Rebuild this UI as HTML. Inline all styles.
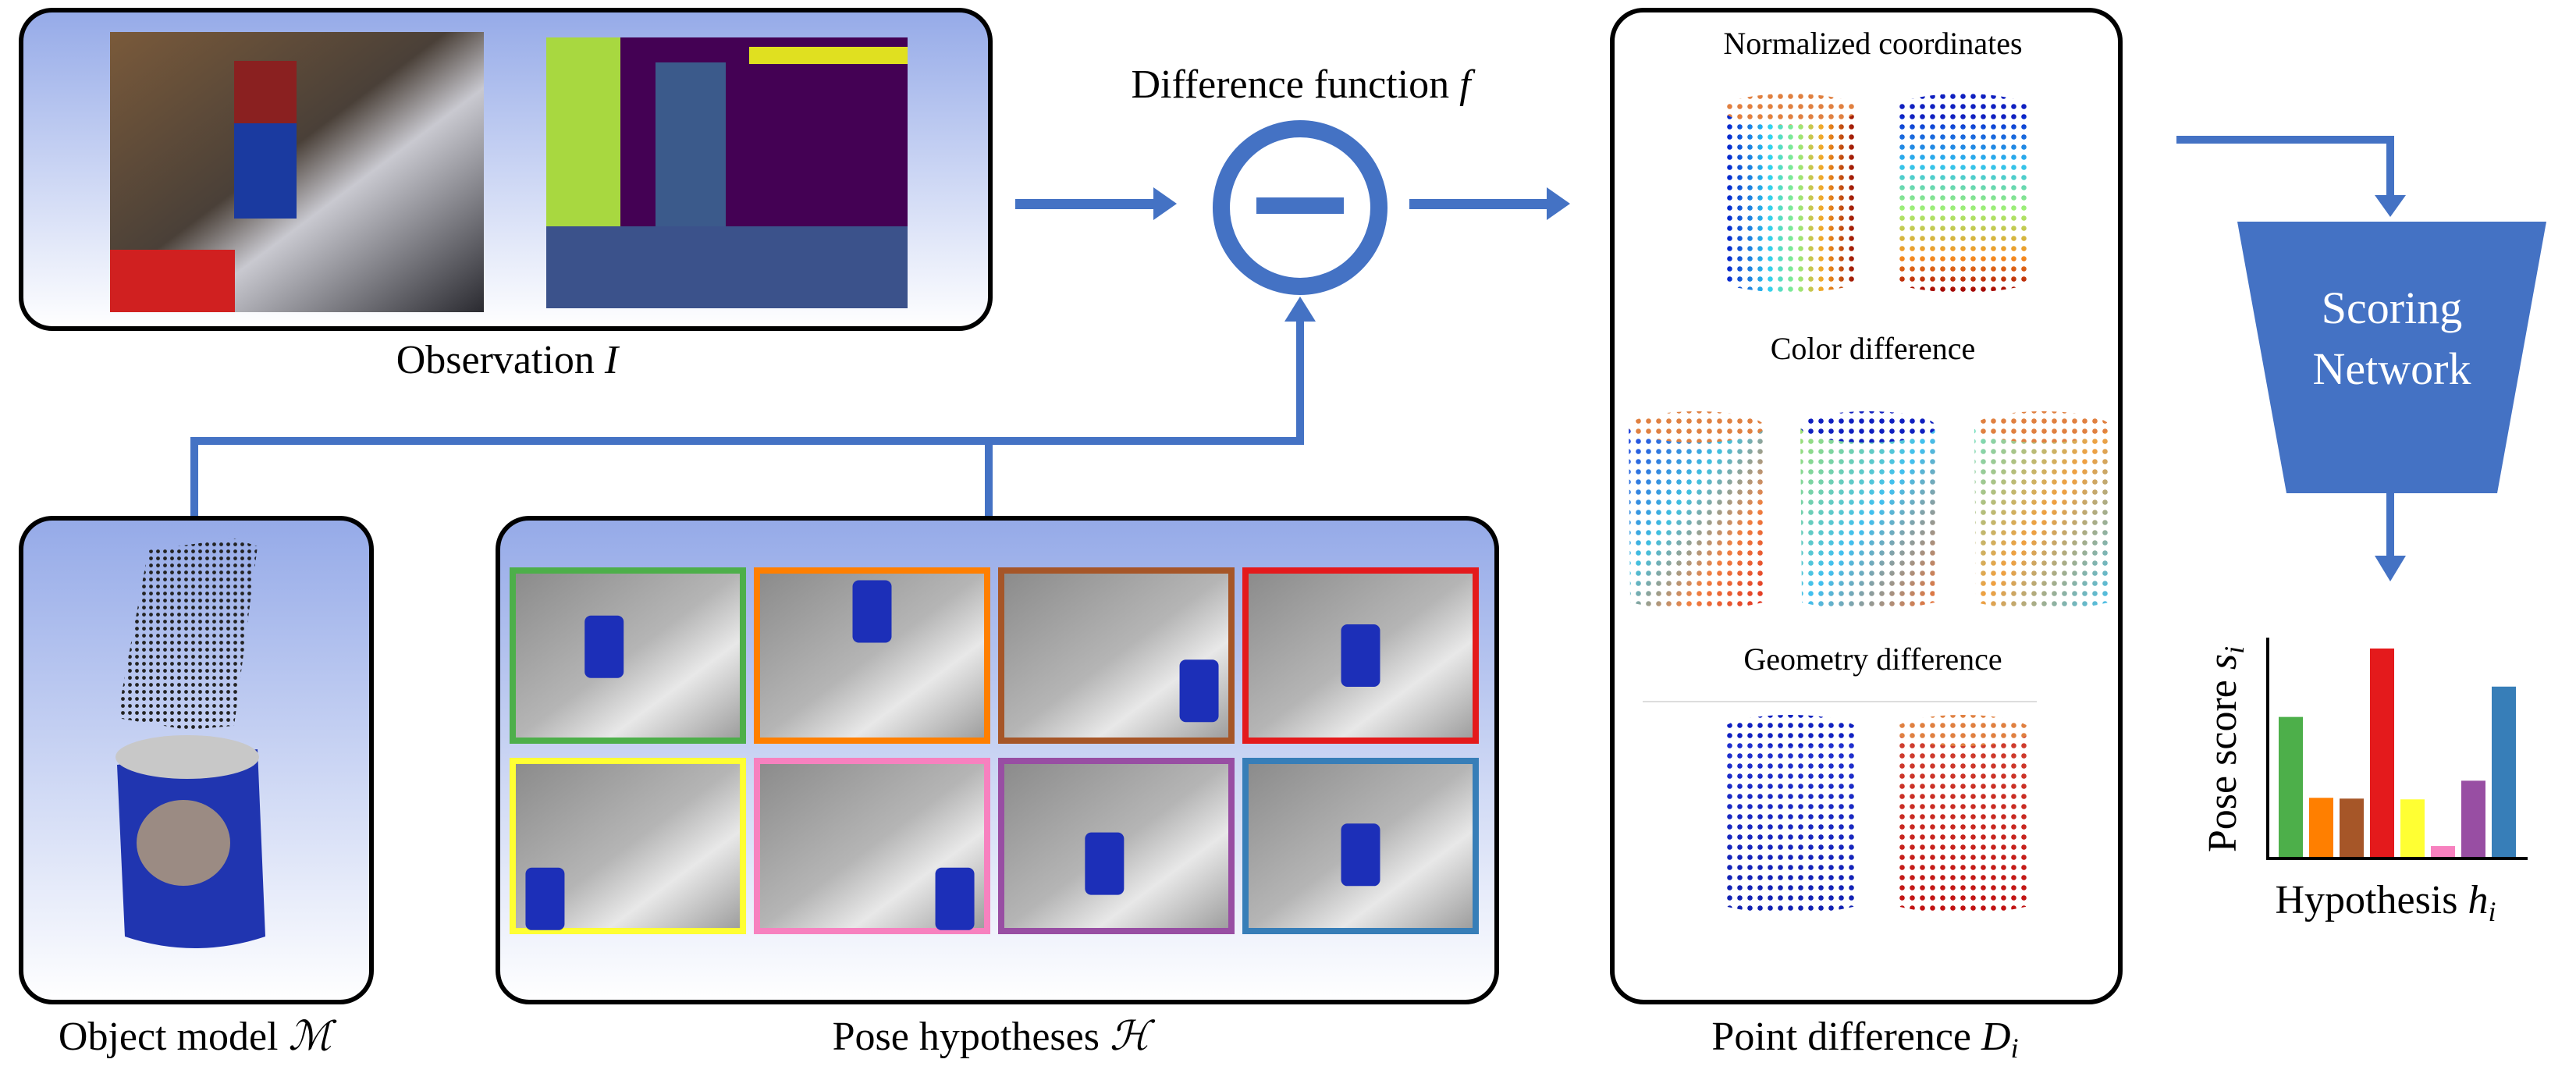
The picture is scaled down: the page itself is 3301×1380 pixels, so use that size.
<!DOCTYPE html>
<html><head><meta charset="utf-8"><style>
html,body{margin:0;padding:0;background:#fff}
svg{display:block}
text{font-family:"Liberation Serif",serif;fill:#000}
</style></head><body>
<svg id="root" width="3301" height="1380" viewBox="0 0 3301 1380" xmlns="http://www.w3.org/2000/svg">
<defs>
<linearGradient id="boxg" x1="0" y1="0" x2="0" y2="1"><stop offset="0" stop-color="#95aae8"/><stop offset="1" stop-color="#ffffff"/></linearGradient>
<linearGradient id="rgbimg" x1="0" y1="0" x2="1" y2="1"><stop offset="0" stop-color="#7a5a3a"/><stop offset="0.45" stop-color="#4a4038"/><stop offset="0.6" stop-color="#c9c9d0"/><stop offset="1" stop-color="#2a2a30"/></linearGradient>
<linearGradient id="gray" x1="0" y1="0" x2="1" y2="1"><stop offset="0" stop-color="#8a8a8a"/><stop offset="0.5" stop-color="#b5b5b5"/><stop offset="0.7" stop-color="#e8e8e8"/><stop offset="1" stop-color="#9a9a9a"/></linearGradient>
<linearGradient id="jetH" x1="0" y1="0" x2="1" y2="0"><stop offset="0" stop-color="#0010c8"/><stop offset="0.35" stop-color="#30d0f0"/><stop offset="0.55" stop-color="#90f080"/><stop offset="0.75" stop-color="#f8a020"/><stop offset="1" stop-color="#900000"/></linearGradient>
<linearGradient id="jetV" x1="0" y1="0" x2="0" y2="1"><stop offset="0" stop-color="#0010c8"/><stop offset="0.3" stop-color="#30c0f0"/><stop offset="0.55" stop-color="#a0f070"/><stop offset="0.8" stop-color="#f89020"/><stop offset="1" stop-color="#a00000"/></linearGradient>
<linearGradient id="mixA" x1="0" y1="0" x2="1" y2="1"><stop offset="0" stop-color="#2040e0"/><stop offset="0.4" stop-color="#40c0e0"/><stop offset="0.7" stop-color="#f08040"/><stop offset="1" stop-color="#e03020"/></linearGradient>
<linearGradient id="mixB" x1="0" y1="0" x2="1" y2="1"><stop offset="0" stop-color="#a0e070"/><stop offset="0.5" stop-color="#40c0f0"/><stop offset="1" stop-color="#f07030"/></linearGradient>
<linearGradient id="mixC" x1="0" y1="0" x2="1" y2="1"><stop offset="0" stop-color="#70e0c0"/><stop offset="0.5" stop-color="#f0a040"/><stop offset="1" stop-color="#40c0f0"/></linearGradient>
<linearGradient id="geoA" x1="0" y1="0" x2="0" y2="1"><stop offset="0" stop-color="#2030d0"/><stop offset="1" stop-color="#1020b0"/></linearGradient>
<linearGradient id="geoB" x1="0" y1="0" x2="0" y2="1"><stop offset="0" stop-color="#d04030"/><stop offset="1" stop-color="#c01010"/></linearGradient>
<pattern id="dots" width="13" height="13" patternUnits="userSpaceOnUse"><circle cx="6.5" cy="6.5" r="3.3" fill="#fff"/></pattern>
<mask id="dotmask" maskContentUnits="userSpaceOnUse"><rect x="0" y="0" width="3301" height="1380" fill="url(#dots)"/></mask>
<pattern id="bdots" width="9" height="9" patternUnits="userSpaceOnUse"><circle cx="4.5" cy="4.5" r="2.4" fill="#222"/></pattern>
</defs>

<!-- Observation box -->
<rect x="27" y="13" width="1242" height="408" rx="40" fill="url(#boxg)" stroke="#000" stroke-width="6"/>
<rect x="141" y="41" width="479" height="359" fill="url(#rgbimg)"/>
<rect x="141" y="320" width="160" height="80" fill="#d02020"/>
<rect x="300" y="80" width="80" height="200" fill="#1a3aa0"/>
<rect x="300" y="78" width="80" height="80" fill="#8a2020"/>
<rect x="700" y="48" width="463" height="347" fill="#440154"/>
<rect x="700" y="48" width="95" height="250" fill="#a8d840"/>
<rect x="960" y="60" width="203" height="22" fill="#e0e020"/>
<rect x="840" y="80" width="90" height="220" fill="#3b5a8b"/>
<rect x="700" y="290" width="463" height="105" fill="#3b528b"/>
<text x="650" y="478" font-size="52" text-anchor="middle">Observation <tspan font-style="italic">I</tspan></text>

<!-- Difference function -->
<text x="1667" y="125" font-size="52" text-anchor="middle">Difference function <tspan font-style="italic">f</tspan></text>
<circle cx="1666" cy="266" r="101" fill="#fff" stroke="#4472c4" stroke-width="22"/>
<rect x="1610" y="253" width="112" height="21" fill="#4472c4"/>

<!-- arrows -->
<g fill="#4472c4" stroke="none">
<rect x="1301" y="255" width="180" height="13"/>
<polygon points="1478,240 1508,261 1478,282"/>
<rect x="1806" y="255" width="180" height="13"/>
<polygon points="1982,240 2012,261 1982,282"/>
<rect x="244" y="560" width="1427" height="10"/>
<rect x="244" y="560" width="10" height="104"/>
<rect x="1262" y="560" width="10" height="104"/>
<rect x="1661" y="405" width="10" height="165"/>
<polygon points="1646,412 1666,380 1686,412"/>
<rect x="2789" y="174" width="279" height="10"/>
<rect x="3058" y="174" width="10" height="80"/>
<polygon points="3043,250 3083,250 3063,278"/>
<rect x="3058" y="632" width="10" height="85"/>
<polygon points="3043,712 3083,712 3063,745"/>
</g>

<!-- Object model box -->
<rect x="27" y="664" width="449" height="620" rx="40" fill="url(#boxg)" stroke="#000" stroke-width="6"/>
<polygon points="190,705 300,690 330,700 300,930 240,935 150,920" fill="url(#bdots)"/>
<g>
<path d="M150,980 L330,960 L340,1200 Q250,1230 160,1200 Z" fill="#2035b0"/>
<ellipse cx="240" cy="970" rx="92" ry="28" fill="#c8c8c8"/>
<ellipse cx="235" cy="1080" rx="60" ry="55" fill="#d0b070" opacity="0.7"/>
</g>
<text x="250" y="1345" font-size="52" text-anchor="middle">Object model <tspan font-style="italic">ℳ</tspan></text>

<!-- Pose hypotheses box -->
<rect x="638" y="664" width="1280" height="620" rx="40" fill="url(#boxg)" stroke="#000" stroke-width="6"/>
<g id="cells"></g>
<text x="1270" y="1345" font-size="52" text-anchor="middle">Pose hypotheses <tspan font-style="italic">ℋ</tspan></text>

<!-- Point difference box -->
<rect x="2066" y="13" width="651" height="1271" rx="40" fill="#fff" stroke="#000" stroke-width="6"/>
<text x="2400" y="69" font-size="40" text-anchor="middle">Normalized coordinates</text>
<text x="2400" y="460" font-size="40" text-anchor="middle">Color difference</text>
<text x="2400" y="858" font-size="40" text-anchor="middle">Geometry difference</text>
<rect x="2105" y="898" width="505" height="2" fill="#ddd"/>
<g id="cyls"></g>
<text x="2390" y="1345" font-size="52" text-anchor="middle">Point difference <tspan font-style="italic">D<tspan font-size="36" dy="10">i</tspan></tspan></text>

<!-- Scoring network -->
<polygon points="2867,284 3263,284 3200,632 2930,632" fill="#4472c4"/>
<text x="3065" y="414" font-size="58" text-anchor="middle" style="fill:#fff">Scoring</text>
<text x="3065" y="492" font-size="58" text-anchor="middle" style="fill:#fff">Network</text>

<!-- chart -->
<g id="chart"></g>
<text transform="translate(2865,960) rotate(-90)" font-size="52" text-anchor="middle">Pose score <tspan font-style="italic">s<tspan font-size="36" dy="10">i</tspan></tspan></text>
<text x="3057" y="1170" font-size="52" text-anchor="middle">Hypothesis <tspan font-style="italic">h<tspan font-size="36" dy="10">i</tspan></tspan></text>
</svg>
<script>
const NS='http://www.w3.org/2000/svg';
const hypotheses=['h1','h2','h3','h4','h5','h6','h7','h8'];
const hypColors=['#4daf4a','#ff7f00','#a65628','#e41a1c','#ffff33','#f781bf','#984ea3','#377eb8'];
const scores=[181,77,76,269,75,15,99,220];
const yMax=283;
function mk(tag,attrs,parent){const e=document.createElementNS(NS,tag);for(const k in attrs)e.setAttribute(k,attrs[k]);parent.appendChild(e);return e;}

// pose hypothesis cells
const cells=document.getElementById('cells');
const colX=[653,966,1279,1592], rowY=[727,971], cw=303, ch=226;
const canPos=[[0.4,0.45],[0.5,0.25],[0.85,0.7],[0.5,0.5],[0.15,0.8],[0.85,0.8],[0.45,0.6],[0.5,0.55]];
hypotheses.forEach((h,i)=>{
  const x=colX[i%4], y=rowY[Math.floor(i/4)];
  const g=mk('g',{},cells);
  
  
  mk('rect',{x:x+4,y:y+4,width:cw-8,height:ch-8,fill:'url(#gray)',stroke:hypColors[i],'stroke-width':8},g);
  const c=mk('rect',{x:x+canPos[i][0]*cw-25,y:y+canPos[i][1]*ch-40,width:50,height:80,fill:'#1c2fb8',rx:8},g);
  
  
});

// cylinders
const cyls=document.getElementById('cyls');
const cylDefs=[[2207,120,'url(#jetH)'],[2428,120,'url(#jetV)'],[2087,527,'url(#mixA)'],[2307,527,'url(#mixB)'],[2530,527,'url(#mixC)'],[2207,916,'url(#geoA)'],[2428,916,'url(#geoB)']];
cylDefs.forEach((d,i)=>{
  const g=mk('g',{mask:'url(#dotmask)'},cyls);
  
  
  mk('path',{d:`M${d[0]},${d[1]+20} L${d[0]+174},${d[1]+20} L${d[0]+172},${d[1]+245} Q${d[0]+87},${d[1]+265} ${d[0]+2},${d[1]+245} Z`,fill:d[2]},g);
  mk('ellipse',{cx:d[0]+87,cy:d[1]+20,rx:87,ry:20,fill:i==1||i==3||i==5?'#1020c0':'#e08040'},g);
});

// bar chart
const chart=document.getElementById('chart');
const ax={x0:2906,y0:1099,top:817,right:3239,barW:31,pitch:39,first:2920};
function yS(v){return ax.y0-(v/yMax)*(ax.y0-ax.top);}
function xS(i){return ax.first+i*ax.pitch;}
scores.forEach((v,i)=>{
  const r=mk('rect',{x:xS(i),y:yS(v),width:ax.barW,height:ax.y0-yS(v),fill:hypColors[i]},chart);
  
  
});
const ya=mk('line',{x1:ax.x0,y1:ax.top,x2:ax.x0,y2:ax.y0+2,stroke:'#000','stroke-width':4},chart);


const xa=mk('line',{x1:ax.x0-2,y1:ax.y0+1,x2:ax.right,y2:ax.y0+1,stroke:'#000','stroke-width':4},chart);


</script>
</body></html>
